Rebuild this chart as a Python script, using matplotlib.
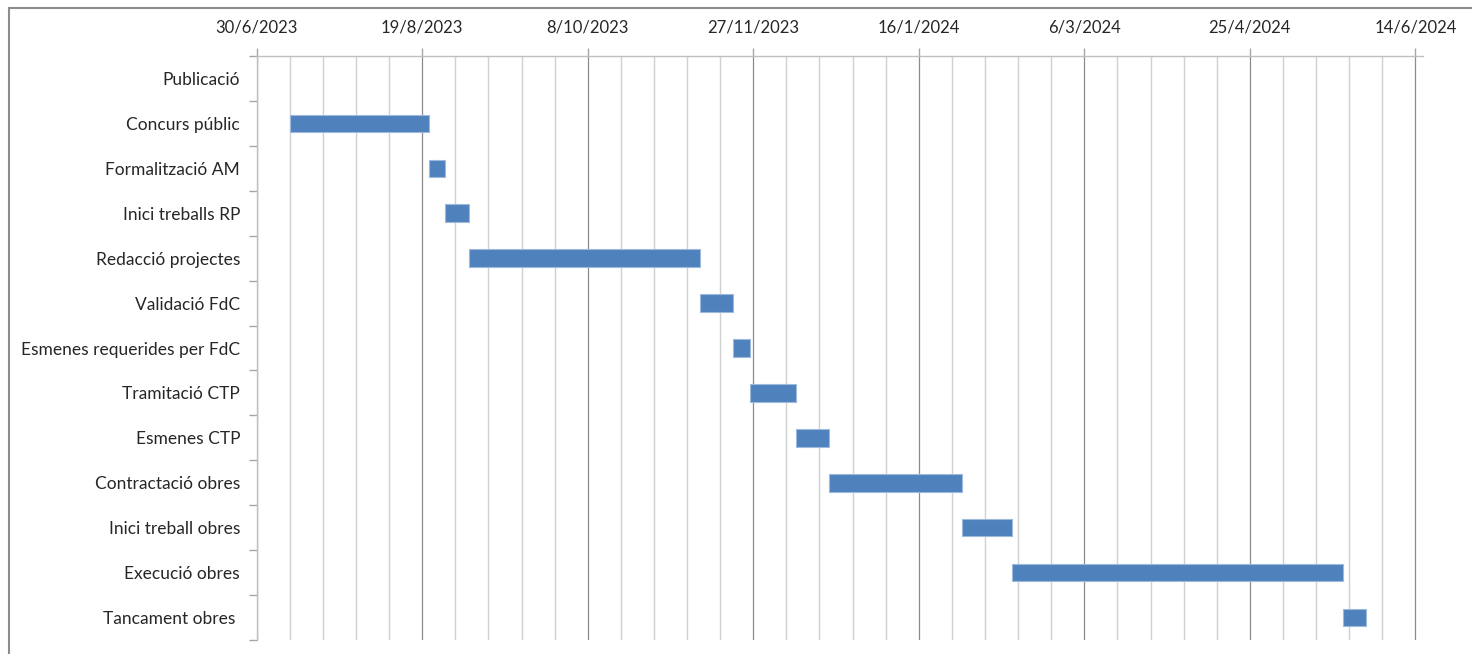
"""Diagrama de Gantt del calendari del projecte."""

from datetime import date

import matplotlib

matplotlib.use("Agg")

import matplotlib.dates as mdates
import matplotlib.pyplot as plt
import numpy as np
from matplotlib.patches import Rectangle
from matplotlib.ticker import FixedLocator, FuncFormatter, MultipleLocator, NullFormatter


tasks = [
    "Publicació",
    "Concurs públic",
    "Formalització AM",
    "Inici treballs RP",
    "Redacció projectes",
    "Validació FdC",
    "Esmenes requerides per FdC",
    "Tramitació CTP",
    "Esmenes CTP",
    "Contractació obres",
    "Inici treball obres",
    "Execució obres",
    "Tancament obres ",
]
start_dates = [
    date(2023, 7, 10),
    date(2023, 7, 10),
    date(2023, 8, 21),
    date(2023, 8, 26),
    date(2023, 9, 2),
    date(2023, 11, 11),
    date(2023, 11, 21),
    date(2023, 11, 26),
    date(2023, 12, 10),
    date(2023, 12, 20),
    date(2024, 1, 29),
    date(2024, 2, 13),
    date(2024, 5, 23),
]
durations_days = [0, 42, 5, 7, 70, 10, 5, 14, 10, 40, 15, 100, 7]

axis_start = date(2023, 6, 30)
major_step_days = 50
minor_step_days = 10

BAR_COLOR = "#4F81BD"
BAR_EDGE = "#9DB9DD"
TEXT_COLOR = "#262626"

plt.rcParams["font.family"] = ["Lato", "DejaVu Sans"]

fig = plt.figure(figsize=(14.72, 6.54), dpi=100)
ax = fig.add_axes([256.7 / 1472, 1 - 640 / 654, (1423 - 256.7) / 1472, 584 / 654])

# marc exterior del gràfic
fig.add_artist(
    Rectangle(
        (9 / 1472, -0.1), 1.2, 1 - 8 / 654 + 0.1,
        transform=fig.transFigure, fill=False, edgecolor="#8C8C8C", linewidth=1.5,
    )
)

start_num = mdates.date2num(axis_start)
left = mdates.date2num(start_dates)
positions = np.arange(len(tasks))
edge_widths = [0 if d == 0 else 0.8 for d in durations_days]

ax.barh(
    positions,
    durations_days,
    left=left,
    height=0.39,
    color=BAR_COLOR,
    edgecolor=BAR_EDGE,
    linewidth=edge_widths,
    zorder=3,
)

ax.set_xlim(start_num, start_num + 352.3)
ax.set_ylim(len(tasks) - 0.5, -0.5)

# eix de dates a la part superior
ax.xaxis.tick_top()
ax.xaxis.set_major_locator(
    MultipleLocator(major_step_days, offset=start_num % major_step_days)
)
ax.xaxis.set_minor_locator(
    MultipleLocator(minor_step_days, offset=start_num % minor_step_days)
)


def format_date(value, _pos):
    d = mdates.num2date(value)
    return f"{d.day}/{d.month}/{d.year}"


ax.xaxis.set_major_formatter(FuncFormatter(format_date))
ax.xaxis.set_minor_formatter(NullFormatter())
ax.tick_params(
    axis="x", which="major", direction="out", length=6, width=1,
    color="#A6A6A6", labelsize=12, labelcolor=TEXT_COLOR, pad=9,
)
ax.tick_params(axis="x", which="minor", length=0)

# categories: marques a les vores, etiquetes al centre
ax.yaxis.set_major_locator(FixedLocator(np.arange(len(tasks) + 1) - 0.5))
ax.yaxis.set_major_formatter(NullFormatter())
ax.yaxis.set_minor_locator(FixedLocator(positions))
ax.set_yticklabels(tasks, minor=True)
ax.tick_params(
    axis="y", which="major", direction="out", length=6, width=1, color="#A6A6A6",
)
ax.tick_params(
    axis="y", which="minor", length=0, labelsize=12.5, labelcolor=TEXT_COLOR, pad=12,
)

ax.grid(axis="x", which="major", color="#8C8C8C", linewidth=0.9, zorder=1)
ax.grid(axis="x", which="minor", color="#D0D0D0", linewidth=1.0, zorder=1)
ax.grid(axis="y", visible=False)
ax.set_axisbelow(True)

for side in ("right", "bottom"):
    ax.spines[side].set_visible(False)
for side in ("left", "top"):
    ax.spines[side].set_color("#BFBFBF")
    ax.spines[side].set_linewidth(1)

fig.savefig("out.png", dpi=100)
